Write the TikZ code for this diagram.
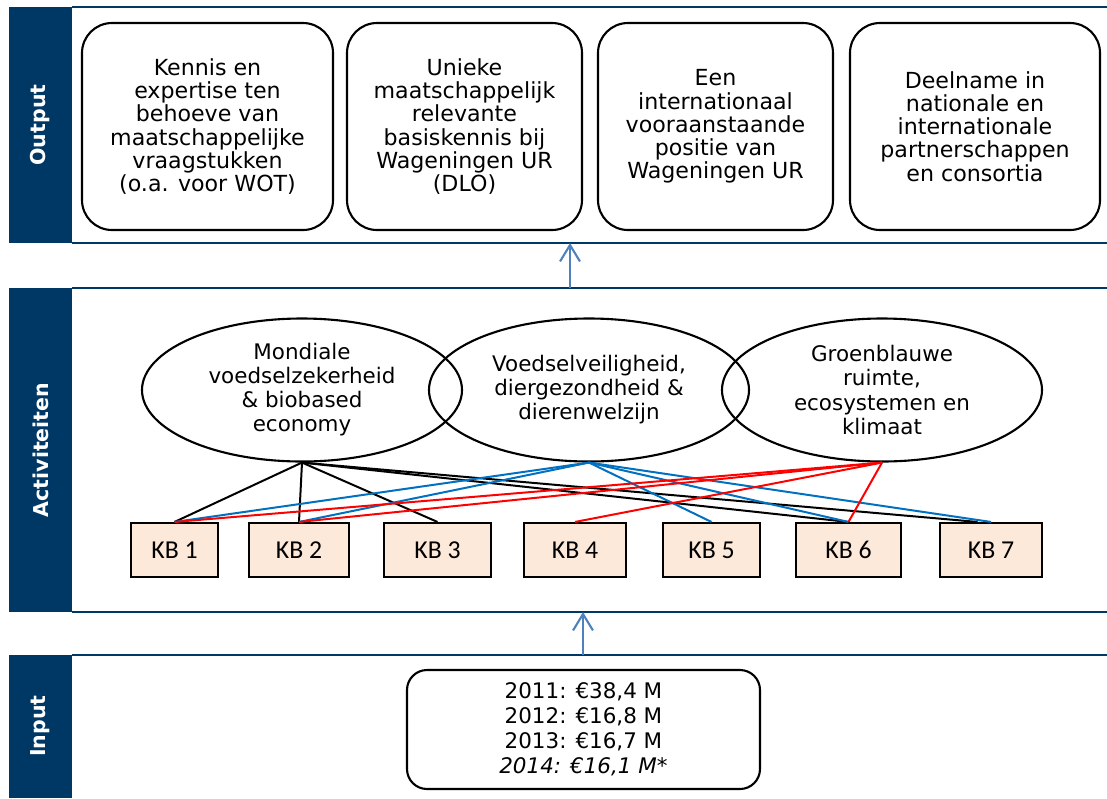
\documentclass[tikz,border=0pt]{standalone}
\usepackage{fontspec}
\setmainfont{DejaVu Sans}
\newfontfamily\kbfont{Carlito}
\usetikzlibrary{shapes.geometric,arrows.meta}
\definecolor{wurblauw}{RGB}{0,56,101}
\definecolor{pijlblauw}{RGB}{79,129,189}
\definecolor{lijnblauw}{RGB}{0,112,192}
\definecolor{kbvlak}{RGB}{253,233,217}
\newcommand{\pxu}{0.03cm}
\tikzset{
  balk/.style={fill=wurblauw},
  balktekst/.style={text=white, font=\fontsize{17.5}{20}\selectfont\bfseries, rotate=90},
  bandlijn/.style={draw=wurblauw, line width=1.8pt},
  outbox/.style={draw, line width=1.8pt, rounded corners=0.9cm, align=center, inner sep=0pt,
    minimum height=207*\pxu, font=\fontsize{18.9}{19.8}\selectfont},
  thema/.style={draw, ellipse, line width=1.8pt, align=center, inner sep=0pt,
    minimum width=320*\pxu, minimum height=143*\pxu, font=\fontsize{18.3}{20.5}\selectfont},
  kbbox/.style={draw, fill=kbvlak, line width=1.8pt, inner sep=0pt,
    minimum height=54*\pxu, font=\kbfont\fontsize{22}{24}\selectfont},
  inbox/.style={draw, line width=1.8pt, rounded corners=0.6cm, align=center, inner sep=0pt,
    minimum width=353*\pxu, minimum height=119*\pxu, font=\fontsize{18.3}{21.3}\selectfont},
  pijl/.style={draw=pijlblauw, line width=1.8pt, -{Straight Barb[length=14pt,width=17pt]}},
  koppel/.style={line width=1.7pt}
}
\begin{document}
\begin{tikzpicture}[x=0.03cm, y=-0.03cm]
\useasboundingbox (0,0) rectangle (1107,798);

% banden
\fill[balk] (9,7) rectangle (72,243);
\fill[balk] (9,288) rectangle (72,612);
\fill[balk] (9,655) rectangle (72,798);
\foreach \y in {7,243,288,612,655}{
	\draw[bandlijn] (72,\y)--(1107,\y);
}
\node[balktekst] (lblout) at (40.5,125) {Output};
\node[balktekst] (lblact) at (40.5,450) {Activiteiten};
\node[balktekst] (lblin) at (40.5,726) {Input};

% output
\node[outbox, minimum width=251*\pxu] (out1) at (207.5,126.5) {Kennis en\\expertise ten\\behoeve van\\maatschappelijke\\vraagstukken\\(o.a. voor WOT)};
\node[outbox, minimum width=235*\pxu] (out2) at (464.5,126.5) {Unieke\\maatschappelijk\\relevante\\basiskennis bij\\Wageningen UR\\(DLO)};
\node[outbox, minimum width=235*\pxu] (out3) at (715.5,126.5) {Een\\internationaal\\vooraanstaande\\positie van\\Wageningen UR};
\node[outbox, minimum width=250*\pxu] (out4) at (975,126.5) {Deelname in\\nationale en\\internationale\\partnerschappen\\en consortia};

% activiteiten
\node[thema] (e1) at (302,390) {Mondiale\\voedselzekerheid\\\& biobased\\economy};
\node[thema] (e2) at (589,390) {Voedselveiligheid,\\diergezondheid \&\\dierenwelzijn};
\node[thema] (e3) at (882,390) {Groenblauwe\\ruimte,\\ecosystemen en\\klimaat};

\foreach \i/\x/\w in {1/174.5/87, 2/299/100, 3/437.5/107, 4/575/102, 5/711.5/97, 6/848.5/105, 7/991/102}{
	\node[kbbox, minimum width=\w*\pxu] (kb\i) at (\x,550) {KB \i};
}

\foreach \k in {1,2,3,6}{
	\draw[koppel, black] (e1.south)--(kb\k.north);
}
\draw[koppel, black] (e1.south)--([xshift=-0.4cm]kb7.north);
\foreach \k in {1,2,5,6,7}{
	\draw[koppel, lijnblauw] (e2.south)--(kb\k.north);
}
\foreach \k in {1,2,4,6}{
	\draw[koppel, red] (e3.south)--(kb\k.north);
}

% input
\node[inbox] (budget) at (583.5,729.5) {2011: €38,4 M\\2012: €16,8 M\\2013: €16,7 M\\\textit{2014: €16,1 M*}};

% pijlen
\coordinate (actboven) at (570,288);
\coordinate (outonder) at (570,243);
\coordinate (inboven) at (583,655);
\coordinate (actonder) at (583,612);
\draw[pijl] (actboven)--(outonder);
\draw[pijl] (inboven)--(actonder);

\end{tikzpicture}
\end{document}
